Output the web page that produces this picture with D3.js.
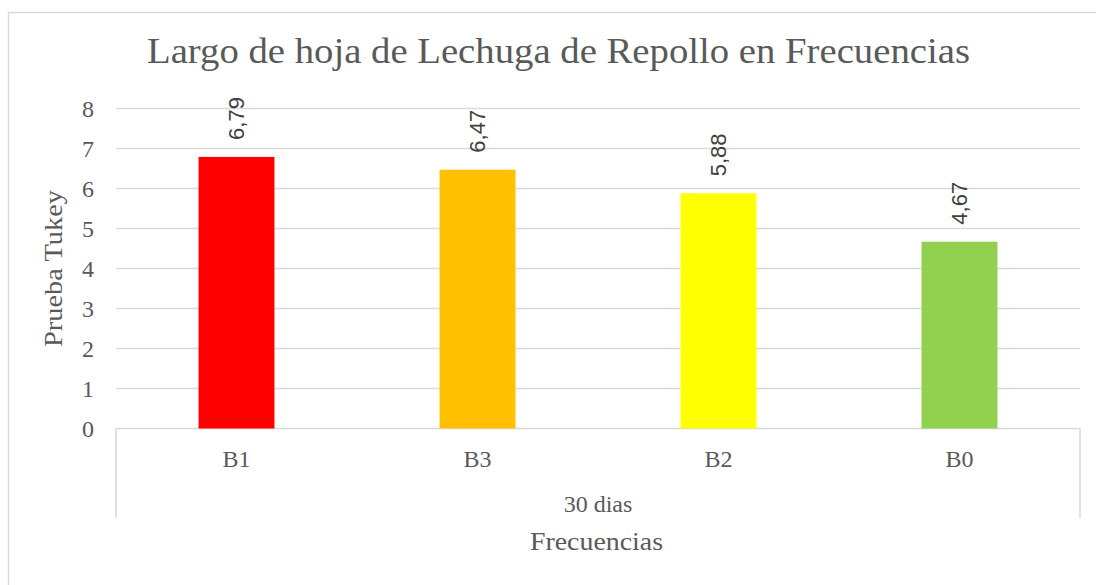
<!DOCTYPE html>
<html>
<head>
<meta charset="utf-8">
<script src="https://cdn.jsdelivr.net/npm/d3@7"></script>
<style>
	body { margin: 0; background: #fff; }
	svg { display: block; }
	.serif { font-family: "Liberation Serif", serif; fill: #595959; }
	.dataLabel { font-family: "Liberation Sans", sans-serif; fill: #404040; }
</style>
</head>
<body>
<div id="chart"></div>
<script>
//------------------------------- Data -------------------------------

var categories = ["B1", "B3", "B2", "B0"];
var values = [6.79, 6.47, 5.88, 4.67];
var barColors = ["#FF0000", "#FFC000", "#FFFF00", "#92D050"];
var yTicks = [0, 1, 2, 3, 4, 5, 6, 7, 8];
var groupLabel = "30 dias";

var titleText = "Largo de hoja de Lechuga de Repollo en Frecuencias";
var yTitle = "Prueba Tukey";
var xTitle = "Frecuencias";

//------------------------------- Set up svg -------------------------------

var width = 1096, height = 585;

var plot = { left: 116, right: 1080, top: 108.5, bottom: 428.5 };

var svg = d3.select("#chart")
	.append("svg")
	.attr("width", width)
	.attr("height", height);

//Chart border (runs past the right and bottom edges)
svg.append("rect")
	.attr("x", 8.5)
	.attr("y", 12.5)
	.attr("width", 1200)
	.attr("height", 700)
	.style("fill", "none")
	.style("stroke", "#D9D9D9")
	.style("stroke-width", 1.5);

//------------------------------- Scales -------------------------------

var x = d3.scaleBand()
	.domain(categories)
	.range([plot.left, plot.right])
	.paddingInner(0.685)
	.paddingOuter(0.685 / 2);

var y = d3.scaleLinear()
	.domain([0, 8])
	.range([plot.bottom, plot.top]);

//------------------------------- Gridlines and y axis -------------------------------

svg.selectAll(".gridLine")
	.data(yTicks.filter(function(d) { return d > 0; }))
	.enter().append("line")
	.attr("class", "gridLine")
	.attr("x1", plot.left)
	.attr("x2", plot.right)
	.attr("y1", function(d) { return y(d); })
	.attr("y2", function(d) { return y(d); })
	.style("stroke", "#D9D9D9")
	.style("stroke-width", 1.5);

svg.selectAll(".yTick")
	.data(yTicks)
	.enter().append("text")
	.attr("class", "serif yTick")
	.attr("x", 94)
	.attr("y", function(d) { return y(d); })
	.attr("dy", "0.34em")
	.style("text-anchor", "end")
	.style("font-size", "24px")
	.text(function(d) { return d; });

//------------------------------- Category axis box -------------------------------

var axisBox = svg.append("g")
	.style("stroke", "#D9D9D9")
	.style("stroke-width", 1.5)
	.style("fill", "none");

axisBox.append("line")
	.attr("x1", plot.left).attr("x2", plot.right)
	.attr("y1", plot.bottom).attr("y2", plot.bottom);
axisBox.append("line")
	.attr("x1", plot.left).attr("x2", plot.left)
	.attr("y1", plot.bottom).attr("y2", 518);
axisBox.append("line")
	.attr("x1", plot.right).attr("x2", plot.right)
	.attr("y1", plot.bottom).attr("y2", 518);

svg.selectAll(".xTick")
	.data(categories)
	.enter().append("text")
	.attr("class", "serif xTick")
	.attr("x", function(d) { return x(d) + x.bandwidth() / 2; })
	.attr("y", 467)
	.style("text-anchor", "middle")
	.style("font-size", "24px")
	.text(function(d) { return d; });

svg.append("text")
	.attr("class", "serif")
	.attr("x", (plot.left + plot.right) / 2)
	.attr("y", 512)
	.style("text-anchor", "middle")
	.style("font-size", "24px")
	.text(groupLabel);

//------------------------------- Bars -------------------------------

svg.selectAll(".bar")
	.data(values)
	.enter().append("rect")
	.attr("class", "bar")
	.attr("x", function(d, i) { return x(categories[i]); })
	.attr("width", x.bandwidth())
	.attr("y", function(d) { return y(d); })
	.attr("height", function(d) { return y(0) - y(d); })
	.style("fill", function(d, i) { return barColors[i]; });

//Data labels, rotated and sitting above each bar
svg.selectAll(".dataLabel")
	.data(values)
	.enter().append("text")
	.attr("class", "dataLabel")
	.attr("transform", function(d, i) {
		return "translate(" + (x(categories[i]) + x.bandwidth() / 2) + "," + (y(d) - 17) + ") rotate(-90)";
	})
	.attr("dy", "0.35em")
	.style("font-size", "22px")
	.text(function(d) { return d.toFixed(2).replace(".", ","); });

//------------------------------- Titles -------------------------------

//Cambria-like widths: stretch the text to the widths
svg.append("text")
	.attr("class", "serif")
	.attr("x", 558.5)
	.attr("y", 63)
	.attr("textLength", 823)
	.attr("lengthAdjust", "spacingAndGlyphs")
	.style("text-anchor", "middle")
	.style("font-size", "36px")
	.text(titleText);

svg.append("text")
	.attr("class", "serif")
	.attr("transform", "translate(62," + ((190 + 347) / 2) + ") rotate(-90)")
	.attr("textLength", 157)
	.attr("lengthAdjust", "spacingAndGlyphs")
	.style("text-anchor", "middle")
	.style("font-size", "25px")
	.text(yTitle);

svg.append("text")
	.attr("class", "serif")
	.attr("x", 596.5)
	.attr("y", 550)
	.attr("textLength", 133)
	.attr("lengthAdjust", "spacingAndGlyphs")
	.style("text-anchor", "middle")
	.style("font-size", "25px")
	.text(xTitle);
</script>
</body>
</html>
